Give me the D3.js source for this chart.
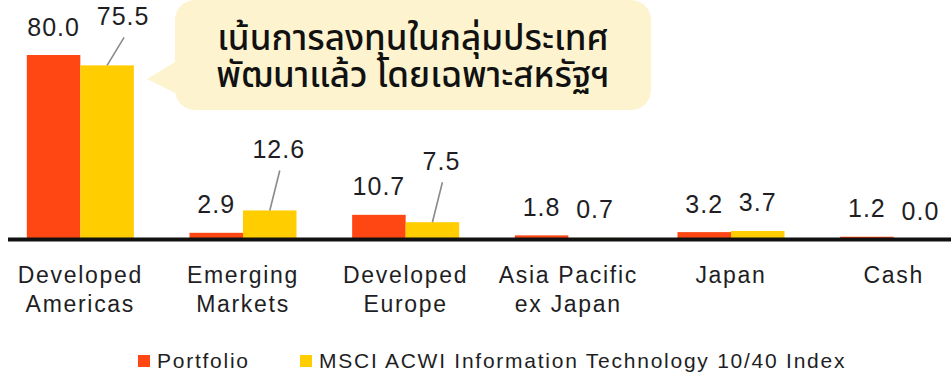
<!DOCTYPE html>
<html>
<head>
<meta charset="utf-8">
<script src="https://cdn.jsdelivr.net/npm/d3@7/dist/d3.min.js"></script>
<style>
  html, body { margin: 0; padding: 0; background: #fff; }
  svg { display: block; }
  .val, .cat, .leg { font-family: "Liberation Sans", Arial, sans-serif; fill: #1e1e24; }
</style>
</head>
<body>
<svg id="chart" width="951" height="375"></svg>
<script>
// Regional allocation, % of assets
const categories = ["Developed Americas", "Emerging Markets", "Developed Europe", "Asia Pacific ex Japan", "Japan", "Cash"];
const categoryLines = [["Developed", "Americas"], ["Emerging", "Markets"], ["Developed", "Europe"], ["Asia Pacific", "ex Japan"], ["Japan"], ["Cash"]];
const seriesNames = ["Portfolio", "MSCI ACWI Information Technology 10/40 Index"];
const portfolio = [80.0, 2.9, 10.7, 1.8, 3.2, 1.2];
const benchmark = [75.5, 12.6, 7.5, 0.7, 3.7, 0.0];
const calloutLines = ["เน้นการลงทุนในกลุ่มประเทศ", "พัฒนาแล้ว โดยเฉพาะสหรัฐฯ"];

const colors = ["#ff4713", "#ffcd00"];
const seriesValues = [portfolio, benchmark];

const svg = d3.select("#chart");

const x = d3.scaleBand().domain(categories).range([-1, 975]).paddingInner(0.342).paddingOuter(0.171);
const xs = d3.scaleBand().domain(seriesNames).range([0, x.bandwidth()]);
const y = d3.scaleLinear().domain([0, 80]).range([239.5, 55]);

const rows = categories.map((c, i) => ({ cat: c, i, vals: seriesValues.map(s => s[i]) }));

// bars
const groups = svg.append("g").selectAll("g").data(rows).join("g")
  .attr("transform", d => `translate(${x(d.cat)},0)`);

groups.selectAll("rect").data(d => d.vals.map((v, k) => ({ v, k, name: seriesNames[k] })))
  .join("rect")
  .attr("x", d => xs(d.name))
  .attr("width", xs.bandwidth())
  .attr("y", d => y(d.v))
  .attr("height", d => y(0) - y(d.v))
  .attr("fill", d => colors[d.k]);

// benchmark labels raised with a leader where they would crowd the portfolio label
const raised = { "Developed Americas": [16, 40], "Emerging Markets": [9, 52], "Developed Europe": [9, 52] };

groups.each(function (d) {
  const g = d3.select(this);
  d.vals.forEach((v, k) => {
    const cx = xs(seriesNames[k]) + xs.bandwidth() / 2;
    const top = y(v);
    const lift = k === 1 ? raised[d.cat] : null;
    let lx = cx, ly = top - 19.5;
    if (lift) {
      lx = cx + lift[0];
      ly = top - lift[1];
      g.append("line")
        .attr("x1", cx).attr("y1", top)
        .attr("x2", lx + 1).attr("y2", ly + 12)
        .attr("stroke", "#8a8a8a").attr("stroke-width", 1.6);
    }
    g.append("text").attr("class", "val")
      .attr("x", lx).attr("y", ly)
      .attr("text-anchor", "middle")
      .attr("font-size", 25)
      .attr("letter-spacing", 1)
      .text(v.toFixed(1));
  });
});

// baseline
svg.append("line")
  .attr("x1", 8).attr("x2", 951)
  .attr("y1", y(0)).attr("y2", y(0))
  .attr("stroke", "#111").attr("stroke-width", 4);

// category labels
const xAxis = svg.append("g");
categories.forEach((c, i) => {
  const t = xAxis.append("text").attr("class", "cat")
    .attr("x", x(c) + x.bandwidth() / 2)
    .attr("y", 283)
    .attr("text-anchor", "middle")
    .attr("font-size", 23)
    .attr("letter-spacing", 1.7);
  categoryLines[i].forEach((ln, j) => {
    t.append("tspan").attr("x", x(c) + x.bandwidth() / 2).attr("dy", j === 0 ? 0 : 29).text(ln);
  });
});

// legend
const legendX = [138, 300];
seriesNames.forEach((n, k) => {
  svg.append("rect").attr("x", legendX[k]).attr("y", 355).attr("width", 12).attr("height", 12).attr("fill", colors[k]);
  svg.append("text").attr("class", "leg")
    .attr("x", legendX[k] + 19).attr("y", 368)
    .attr("font-size", 21)
    .attr("letter-spacing", 1.75)
    .text(n);
});

// speech bubble
const bx = 175, by = 0, bw = 476, bh = 110, r = 20;
const bubble = d3.path();
bubble.moveTo(bx + r, by);
bubble.lineTo(bx + bw - r, by);
bubble.arcTo(bx + bw, by, bx + bw, by + r, r);
bubble.lineTo(bx + bw, by + bh - r);
bubble.arcTo(bx + bw, by + bh, bx + bw - r, by + bh, r);
bubble.lineTo(bx + r, by + bh);
bubble.arcTo(bx, by + bh, bx, by + bh - r, r);
bubble.lineTo(bx, 93);
bubble.lineTo(147, 79);
bubble.lineTo(bx, 62);
bubble.lineTo(bx, by + r);
bubble.arcTo(bx, by, bx + r, by, r);
bubble.closePath();
svg.append("path").attr("d", bubble.toString()).attr("fill", "#fdf4cf");

svg.append("text")
  .attr("x", 413).attr("y", 50)
  .attr("text-anchor", "middle")
  .attr("font-family", "'Noto Sans Thai', 'Noto Sans', sans-serif")
  .attr("font-size", 35)
  .attr("font-weight", 500)
  .attr("fill", "#111")
  .selectAll("tspan").data(calloutLines).join("tspan")
  .attr("x", 413).attr("dy", (d, i) => i === 0 ? 0 : 37)
  .text(d => d);
</script>
</body>
</html>
